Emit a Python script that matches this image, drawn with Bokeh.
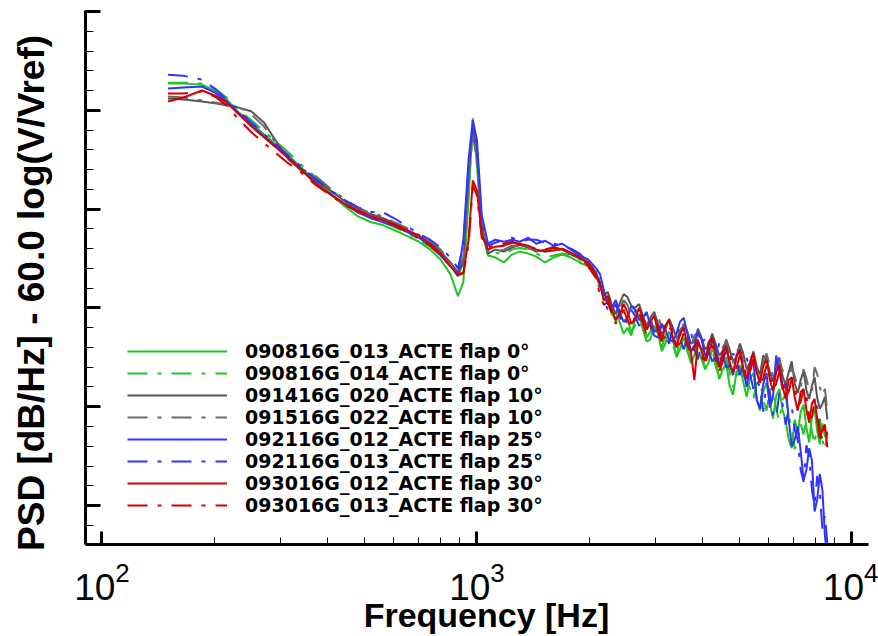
from bokeh.plotting import figure
from bokeh.models import FixedTicker, CustomJSTickFormatter
from bokeh.embed import file_html
from bokeh.resources import INLINE

# Frequency grid [Hz]
freq = [150, 165, 185, 200, 215, 230, 250, 270, 290, 315,
        340, 370, 400, 440, 480, 520, 560, 600, 650, 700,
        750, 800, 850, 890, 920, 950, 975, 1000, 1030, 1070,
        1120, 1180, 1240, 1300, 1370, 1440, 1520, 1600, 1690, 1780,
        1880, 1980,
        2080, 2130, 2180, 2235, 2290, 2345, 2400, 2460, 2520, 2580,
        2640, 2705, 2770, 2835, 2900, 2970, 3040, 3110, 3180, 3255,
        3330, 3405, 3480, 3560, 3640, 3720, 3800, 3885, 3970, 4060,
        4150, 4240, 4330, 4425, 4520, 4620, 4720, 4820, 4920, 5025,
        5130, 5240, 5350, 5460, 5570, 5685, 5800, 5920, 6040, 6160,
        6280, 6405, 6530, 6655, 6780, 6910, 7040, 7170, 7300, 7430,
        7560, 7690, 7820, 7950, 8080, 8210, 8340, 8470, 8600]

# PSD values [dB/Hz]
psd_090816_013 = [52.7, 52.7, 52.6, 52.0, 51.1, 49.9, 48.7, 47.6, 46.6, 45.4,
                  44.2, 42.9, 41.9, 40.4, 39.3, 38.7, 38.4, 37.9, 37.3, 36.7,
                  35.9, 34.9, 33.4, 31.2, 32.6, 40.9, 49.2, 44.4, 37.9, 35.3,
                  35.1, 34.6, 35.4, 35.7, 35.5, 35.2, 34.6, 35.1, 35.4, 35.1,
                  34.6, 34.2,
                  33.0, 32.4, 30.8, 30.6, 29.3, 29.6, 28.6, 27.4, 28.0, 27.2,
                  28.8, 29.4, 27.8, 26.6, 26.8, 28.2, 27.4, 25.6, 26.4, 27.6,
                  26.8, 25.0, 25.8, 27.0, 26.2, 24.4, 25.2, 26.6, 25.6, 23.8,
                  24.5, 25.9, 25.0, 22.8, 23.7, 24.4, 22.1, 21.2, 23.5, 24.2,
                  22.5, 21.0, 22.9, 23.4, 20.9, 19.6, 21.5, 22.4, 20.3, 18.8,
                  21.1, 21.8, 19.7, 18.6, 16.7, 15.8, 18.7, 17.2, 19.5, 20.2,
                  17.9, 16.4, 18.9, 19.8, 17.5, 16.2, 18.3, 17.0, 16.9]
psd_090816_014 = [52.8, 52.8, 52.7, 52.2, 51.3, 50.2, 49.0, 47.9, 46.9, 45.7,
                  44.5, 43.3, 42.3, 40.9, 39.7, 39.1, 38.7, 38.2, 37.6, 36.9,
                  36.2, 35.3, 34.2, 33.2, 34.6, 41.9, 48.5, 45.0, 38.1, 35.7,
                  35.6, 35.4, 35.9, 36.1, 35.9, 35.5, 35.1, 35.3, 35.5, 35.3,
                  34.9, 34.3,
                  33.4, 32.0, 31.2, 30.9, 29.6, 28.6, 29.0, 29.8, 28.8, 27.6,
                  28.2, 29.2, 28.6, 27.0, 27.6, 28.4, 27.0, 26.0, 27.2, 27.9,
                  26.2, 25.2, 26.8, 27.4, 25.6, 24.6, 26.0, 26.2, 24.8, 23.8,
                  25.4, 25.9, 24.1, 23.0, 24.5, 25.0, 23.5, 22.0, 22.7, 24.0,
                  23.3, 22.4, 21.9, 20.8, 22.3, 22.8, 20.7, 19.6, 21.7, 21.9,
                  19.7, 18.6, 20.7, 21.2, 19.1, 17.8, 15.7, 16.6, 18.3, 17.2,
                  19.1, 19.6, 17.5, 16.2, 18.3, 18.8, 16.7, 15.6, 17.5]
psd_091416_020 = [51.2, 51.1, 50.9, 50.7, 50.5, 50.3, 49.9, 48.8, 47.0, 45.0,
                  43.9, 42.9, 42.1, 40.9, 40.1, 39.5, 39.1, 38.6, 37.9, 37.3,
                  36.6, 35.7, 34.6, 33.6, 34.6, 43.4, 48.2, 46.0, 38.4, 35.5,
                  35.9, 35.7, 36.1, 36.4, 36.1, 35.7, 35.9, 36.2, 35.9, 35.4,
                  35.0, 34.6,
                  33.6, 32.2, 31.3, 31.6, 30.3, 29.4, 30.4, 31.4, 31.1, 30.2,
                  30.0, 30.4, 29.2, 28.2, 29.0, 29.6, 28.4, 27.4, 27.8, 28.9,
                  28.0, 27.0, 27.2, 28.4, 27.6, 26.4, 26.6, 27.9, 27.0, 25.8,
                  26.2, 27.4, 26.4, 25.2, 25.6, 26.8, 25.8, 24.6, 25.0, 26.4,
                  25.4, 23.8, 24.5, 25.6, 24.1, 23.2, 25.2, 24.8, 23.5, 22.6,
                  24.1, 25.0, 23.1, 22.2, 23.5, 24.6, 22.3, 21.4, 22.7, 23.6,
                  21.7, 20.8, 22.1, 23.0, 20.9, 19.8, 20.3, 21.0, 18.7]
psd_091516_022 = [51.4, 51.3, 51.0, 50.8, 50.6, 50.4, 49.6, 48.4, 46.8, 45.2,
                  44.1, 43.4, 42.3, 41.1, 40.2, 39.6, 39.3, 38.7, 38.1, 37.4,
                  36.7, 35.9, 34.6, 33.8, 35.1, 43.1, 47.5, 45.0, 37.9, 35.7,
                  35.7, 35.9, 36.3, 36.3, 36.0, 35.9, 35.7, 36.0, 35.8, 35.5,
                  35.1, 34.4,
                  33.2, 31.6, 30.8, 31.0, 29.8, 28.8, 29.8, 30.8, 30.3, 29.2,
                  29.6, 30.0, 28.8, 27.8, 28.6, 29.6, 29.2, 28.0, 28.2, 28.8,
                  27.4, 26.6, 27.8, 28.2, 26.8, 26.0, 27.2, 27.6, 26.2, 25.4,
                  26.6, 27.0, 25.8, 24.8, 26.0, 26.6, 25.2, 24.4, 25.6, 26.0,
                  24.5, 23.6, 25.0, 25.2, 23.7, 22.8, 24.3, 25.4, 24.1, 23.0,
                  23.3, 24.6, 23.7, 22.4, 22.7, 24.0, 23.1, 22.0, 21.9, 23.8,
                  22.9, 21.6, 21.5, 24.0, 23.3, 22.0, 21.1, 21.8, 19.5]
psd_092116_012 = [52.2, 52.3, 52.4, 51.8, 50.9, 49.8, 48.5, 47.4, 46.4, 45.2,
                  44.1, 42.7, 41.7, 40.6, 39.7, 39.1, 38.7, 38.3, 37.7, 37.1,
                  36.3, 35.3, 34.2, 33.3, 36.9, 45.0, 49.0, 47.0, 39.4, 36.5,
                  36.9, 36.7, 36.9, 36.7, 37.1, 36.5, 36.8, 36.3, 36.5, 35.9,
                  35.3, 34.9,
                  34.0, 33.4, 31.8, 30.4, 30.0, 30.8, 29.6, 28.6, 29.0, 30.2,
                  29.8, 28.8, 29.0, 29.6, 28.2, 27.2, 27.0, 28.4, 27.8, 26.8,
                  26.6, 27.4, 28.6, 29.0, 27.4, 25.6, 26.2, 27.6, 26.8, 25.2,
                  25.4, 26.8, 26.0, 24.2, 25.0, 26.0, 24.3, 23.2, 25.2, 25.6,
                  23.7, 22.0, 24.1, 24.8, 20.7, 19.8, 22.3, 23.4, 19.9, 21.0,
                  25.2, 23.6, 21.7, 22.4, 18.7, 16.0, 16.7, 18.0, 15.5, 12.6,
                  13.6, 15.8, 14.6, 9.4, 10.6, 13.2, 11.6, 7.0, 4.5]
psd_092116_013 = [53.6, 53.5, 53.1, 52.2, 51.1, 50.0, 48.8, 47.6, 46.6, 45.4,
                  44.3, 43.1, 42.1, 41.0, 40.2, 39.7, 39.7, 39.1, 38.3, 37.5,
                  36.9, 36.1, 35.1, 34.0, 36.4, 44.4, 48.4, 46.0, 38.7, 36.3,
                  36.6, 36.9, 37.1, 36.8, 36.9, 36.9, 36.6, 36.5, 36.3, 36.0,
                  35.5, 34.6,
                  33.6, 32.6, 30.8, 29.8, 29.6, 30.4, 29.2, 28.2, 28.8, 29.8,
                  29.2, 28.2, 28.6, 29.6, 29.0, 27.6, 27.8, 28.6, 27.2, 26.4,
                  28.0, 28.4, 26.8, 25.8, 27.2, 27.6, 25.8, 24.8, 26.4, 26.9,
                  25.6, 24.6, 25.0, 26.4, 25.6, 24.0, 24.1, 25.4, 24.8, 23.2,
                  24.3, 25.0, 23.3, 21.8, 22.7, 22.0, 19.5, 22.4, 21.5, 19.0,
                  18.9, 21.4, 20.3, 18.2, 19.7, 20.0, 17.7, 16.6, 13.6, 12.4,
                  16.1, 15.0, 11.6, 10.0, 13.0, 11.4, 7.6, 9.0, 6.1]
psd_093016_012 = [50.9, 51.3, 52.0, 51.5, 50.8, 49.7, 48.4, 47.3, 46.3, 45.1,
                  44.0, 42.6, 41.7, 40.6, 39.9, 39.3, 38.9, 38.5, 37.9, 37.3,
                  36.5, 35.5, 34.2, 33.4, 33.6, 36.9, 42.9, 41.9, 37.4, 35.9,
                  36.2, 36.3, 36.6, 36.5, 36.3, 35.9, 35.7, 35.8, 36.0, 35.6,
                  35.1, 34.6,
                  33.3, 32.4, 30.8, 31.2, 29.8, 28.8, 29.3, 30.4, 29.6, 28.4,
                  28.8, 30.0, 29.0, 27.8, 28.6, 29.2, 27.6, 26.6, 28.2, 28.8,
                  27.0, 26.0, 27.4, 28.0, 26.2, 25.6, 22.7, 26.6, 25.8, 24.6,
                  26.4, 27.0, 25.2, 24.0, 25.6, 26.2, 24.5, 23.4, 25.0, 25.8,
                  23.9, 22.8, 24.5, 25.4, 23.5, 22.4, 24.1, 24.8, 22.7, 21.6,
                  23.5, 24.2, 22.1, 20.8, 22.7, 23.0, 20.9, 19.6, 21.5, 21.8,
                  19.7, 18.4, 20.3, 20.8, 18.7, 16.8, 17.7, 18.2, 15.9]
psd_093016_013 = [51.7, 51.7, 51.9, 51.4, 50.5, 49.2, 47.8, 46.7, 45.7, 44.6,
                  43.7, 42.5, 41.6, 40.5, 39.8, 39.1, 38.8, 38.4, 37.7, 37.0,
                  36.3, 35.4, 34.2, 33.3, 33.5, 36.4, 42.4, 41.4, 37.1, 36.1,
                  36.4, 36.5, 36.7, 36.4, 36.2, 36.0, 35.9, 36.1, 35.9, 35.4,
                  35.2, 34.2,
                  33.0, 31.2, 30.3, 30.6, 29.4, 28.4, 29.0, 29.8, 28.8, 28.0,
                  29.2, 29.6, 28.4, 27.2, 27.8, 28.8, 28.2, 27.0, 27.0, 28.0,
                  27.6, 26.2, 26.4, 27.4, 26.8, 25.4, 26.0, 26.8, 25.2, 24.2,
                  25.8, 26.2, 24.8, 23.6, 24.5, 25.8, 25.2, 24.0, 23.9, 25.2,
                  24.5, 23.0, 23.5, 24.8, 24.1, 22.2, 22.9, 24.2, 23.5, 21.8,
                  22.3, 23.6, 22.9, 21.0, 21.5, 22.8, 22.1, 20.0, 20.5, 21.8,
                  21.1, 19.0, 18.9, 20.6, 19.9, 17.6, 16.7, 18.2, 17.1]

labels = ["090816G_013_ACTE flap 0\u00b0", "090816G_014_ACTE flap 0\u00b0",
          "091416G_020_ACTE flap 10\u00b0", "091516G_022_ACTE flap 10\u00b0",
          "092116G_012_ACTE flap 25\u00b0", "092116G_013_ACTE flap 25\u00b0",
          "093016G_012_ACTE flap 30\u00b0", "093016G_013_ACTE flap 30\u00b0"]
series = [psd_090816_013, psd_090816_014, psd_091416_020, psd_091516_022,
          psd_092116_012, psd_092116_013, psd_093016_012, psd_093016_013]
colors = ["#22c422", "#22c422", "#555555", "#6a6a6a",
          "#3333ff", "#3333ff", "#d40000", "#d40000"]
dashes = ["solid", "20 10 4 10", "solid", "20 10 4 10",
          "solid", "20 10 4 10", "solid", "20 10 4 10"]

x_major = [100, 1000, 10000]
x_minor = [200, 300, 400, 500, 600, 700, 800, 900,
           2000, 3000, 4000, 5000, 6000, 7000, 8000, 9000]
y_major = [10, 20, 30, 40, 50, 60]
y_minor = [8, 12, 14, 16, 18, 22, 24, 26, 28, 32, 34, 36, 38,
           42, 44, 46, 48, 52, 54, 56, 58]

p = figure(width=878, height=636, x_axis_type="log",
           x_range=(90.4, 11070), y_range=(6.06, 60.1),
           output_backend="svg", toolbar_location=None,
           min_border_left=85, min_border_right=10,
           min_border_top=10, min_border_bottom=91)
p.outline_line_color = None
p.grid.visible = False
p.background_fill_color = "white"

for vals, lab, col, dash in zip(series, labels, colors, dashes):
    p.line(freq, vals, line_color=col, line_width=2, line_dash=dash,
           legend_label=lab)

# x axis
xa = p.xaxis[0]
xa.ticker = FixedTicker(ticks=x_major, minor_ticks=x_minor)
xa.axis_line_width = 3
xa.major_tick_line_width = 3
xa.major_tick_in = 13
xa.major_tick_out = 0
xa.minor_tick_in = 7
xa.minor_tick_out = 0
xa.minor_tick_line_width = 1
xa.major_label_text_font = "Liberation Sans"
xa.major_label_text_font_size = "37px"
xa.major_label_text_color = "black"
xa.major_label_standoff = 17
xa.axis_label = "\u00a0\u00a0Frequency [Hz]"
xa.axis_label_text_font = "Liberation Sans"
xa.axis_label_text_font_style = "bold"
xa.axis_label_text_font_size = "34px"
xa.axis_label_text_color = "black"
xa.axis_label_standoff = -7

# y axis
ya = p.yaxis[0]
ya.ticker = FixedTicker(ticks=y_major, minor_ticks=y_minor)
ya.formatter = CustomJSTickFormatter(code="return ''")
ya.axis_line_width = 3
ya.major_tick_line_width = 3
ya.major_tick_in = 15
ya.major_tick_out = 0
ya.minor_tick_in = 8
ya.minor_tick_out = 0
ya.minor_tick_line_width = 1
ya.major_label_standoff = 0
ya.axis_label = "PSD [dB/Hz] - 60.0 log(V/Vref)\u00a0\u00a0\u00a0"
ya.axis_label_text_font = "Liberation Sans"
ya.axis_label_text_font_style = "bold"
ya.axis_label_text_font_size = "37px"
ya.axis_label_text_color = "black"
ya.axis_label_standoff = 34

lg = p.legend[0]
lg.location = (42, 28)
lg.label_text_font = "DejaVu Sans"
lg.label_text_font_style = "bold"
lg.label_text_font_size = "19px"
lg.label_text_color = "black"
lg.glyph_width = 100
lg.glyph_height = 20
lg.label_height = 20
lg.label_standoff = 18
lg.spacing = 0
lg.padding = 0
lg.margin = 0
lg.border_line_color = None
lg.background_fill_alpha = 0

open("out.html", "w").write(file_html(p, INLINE))
